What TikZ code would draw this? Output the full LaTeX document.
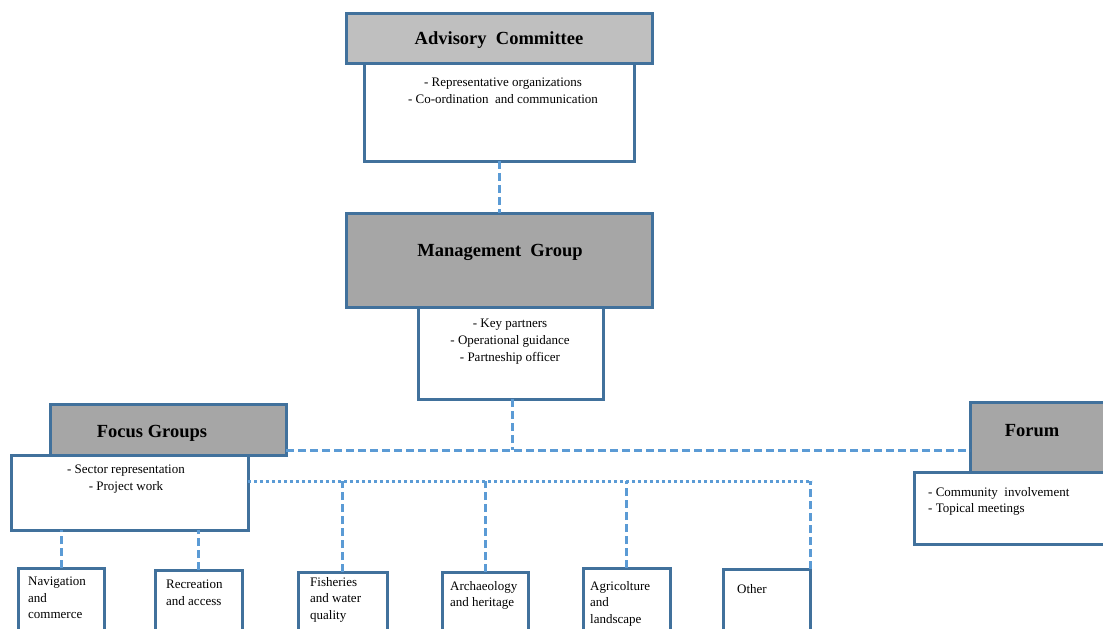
\documentclass[tikz,border=0pt]{standalone}
\usepackage{fontspec}
\setmainfont{Liberation Serif}
\definecolor{bord}{RGB}{65,113,156}
\definecolor{dash}{RGB}{91,155,213}
\definecolor{lgray}{RGB}{191,191,191}
\definecolor{dgray}{RGB}{166,166,166}
\tikzset{
  box/.style={draw=bord, line width=3pt, fill=white, rectangle, anchor=north west, outer sep=0pt, inner sep=0pt},
  hdrlight/.style={box, fill=lgray},
  hdrdark/.style={box, fill=dgray},
  ttl/.style={font=\fontsize{18.5}{22}\selectfont\bfseries, inner sep=0pt},
  txt/.style={font=\fontsize{13}{17}\selectfont, inner sep=0pt, align=center},
  ltxt/.style={font=\fontsize{13}{16.5}\selectfont, inner sep=0pt, align=left, anchor=north west},
  dline/.style={draw=dash, line width=3pt, dash pattern=on 8pt off 4pt},
  dotline/.style={draw=dash, line width=3pt, dash pattern=on 3pt off 3pt},
}
\begin{document}
\begin{tikzpicture}[x=1pt,y=-1pt]
\path[use as bounding box, clip] (0,0) rectangle (1103,629);
\fill[white] (0,0) rectangle (1103,629);

% Advisory Committee
\node[box, minimum width=270, minimum height=98] (acb) at (364,63) {};
\node[hdrlight, minimum width=306, minimum height=50] (ach) at (346,13) {};
\node[ttl] (act) at (499,40) {Advisory\ \ Committee};
\node[txt, anchor=north] (acx) at (503,78) {- Representative organizations\\- Co-ordination\ \ and communication};

% Management Group
\node[hdrdark, minimum width=306, minimum height=94] (mgh) at (346,213) {};
\node[box, minimum width=185, minimum height=92] (mgb) at (418,307) {};
\node[ttl] (mgt) at (500,252) {Management\ \ Group};
\node[txt, anchor=north] (mgx) at (510,319) {- Key partners\\- Operational\ guidance\\- Partneship officer};

% Focus Groups
\node[box, minimum width=237, minimum height=75] (fgb) at (11,455) {};
\node[hdrdark, minimum width=236, minimum height=51] (fgh) at (50,404) {};
\node[ttl] (fgt) at (152,433) {Focus Groups};
\node[txt, anchor=north] (fgx) at (126,465) {- Sector representation\\- Project work};

% Forum
\node[hdrdark, minimum width=160, minimum height=70] (fmh) at (970,402) {};
\node[box, minimum width=220, minimum height=72] (fmb) at (914,472) {};
\node[ttl] (fmt) at (1032,431) {Forum};
\node[ltxt] (fmx) at (928,487) {- Community\ \ involvement\\- Topical meetings};

% bottom boxes
\node[box, minimum width=86, minimum height=80] (nav) at (18,568) {};
\node[box, minimum width=87, minimum height=80] (rec) at (155,570) {};
\node[box, minimum width=89, minimum height=80] (fis) at (298,572) {};
\node[box, minimum width=86, minimum height=80] (arc) at (442,572) {};
\node[box, minimum width=87, minimum height=80] (agr) at (583,568) {};
\node[box, minimum width=87, minimum height=80] (oth) at (723,569) {};
\node[ltxt] (navt) at (28,577) {Navigation\\and\\commerce};
\node[ltxt] (rect) at (166,580) {Recreation\\and access};
\node[ltxt] (fist) at (310,577) {Fisheries\\and water\\quality};
\node[ltxt] (arct) at (450,581) {Archaeology\\and heritage};
\node[ltxt] (agrt) at (590,581) {Agricolture\\and\\landscape};
\node[ltxt] (otht) at (737,584) {Other};

% connectors
\coordinate (bus) at (512,450);
\coordinate (dotend) at (812,481);
\draw[dline] (acb.south) -- (mgh.north);
\draw[dline] (mgb.south -| bus) -- (bus);
\draw[dline] (fgh.east |- bus) -- (fmh.west |- bus);
\draw[dotline] (fgb.east |- dotend) -- (dotend);
\draw[dline] (nav.north) -- (nav.north |- fgb.south);
\draw[dline] (rec.north) -- (rec.north |- fgb.south);
\draw[dline] (fis.north) -- (fis.north |- dotend);
\draw[dline] (arc.north) -- (arc.north |- dotend);
\draw[dline] (agr.north) -- (agr.north |- dotend);
\draw[dline] (oth.north east) -- (oth.north east |- dotend);
\end{tikzpicture}
\end{document}
